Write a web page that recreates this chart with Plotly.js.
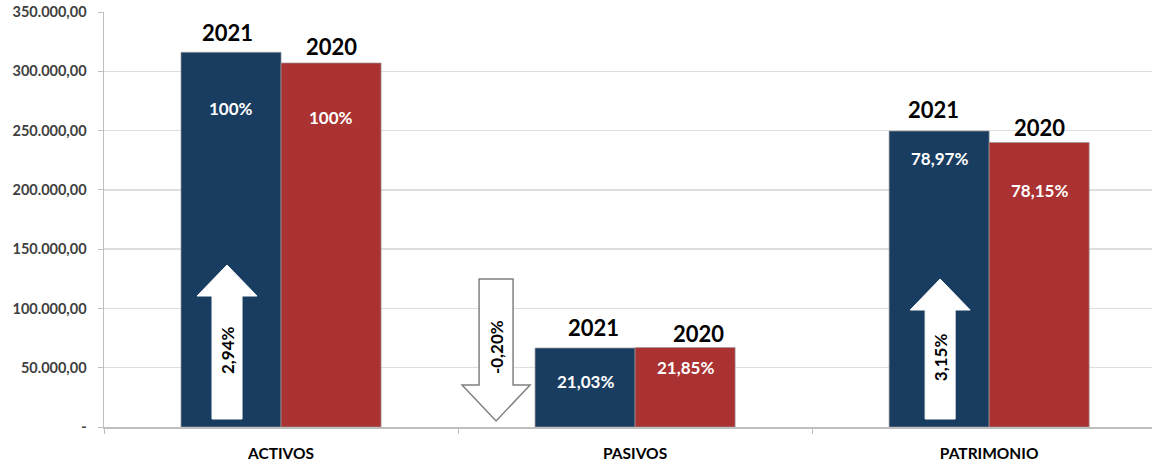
<!DOCTYPE html>
<html>
<head>
<meta charset="utf-8">
<script src="https://cdn.plot.ly/plotly-3.0.1.min.js"></script>
<style>html,body{margin:0;padding:0;background:#fff}#chart{width:1156px;height:465px}</style>
</head>
<body>
<div id="chart"></div>
<script>
// ---- data ----
const categories = ['ACTIVOS', 'PASIVOS', 'PATRIMONIO'];
const values2021 = [316000, 66600, 249600];
const values2020 = [307000, 67000, 240000];
const pct2021 = ['100%', '21,03%', '78,97%'];
const pct2020 = ['100%', '21,85%', '78,15%'];
const seriesNames = ['2021', '2020'];
const changeLabels = ['2,94%', '-0,20%', '3,15%'];
const changeDirection = ['up', 'down', 'up'];
const yTickVals = [0, 50000, 100000, 150000, 200000, 250000, 300000, 350000];
const yTickText = ['-', '50.000,00', '100.000,00', '150.000,00', '200.000,00', '250.000,00', '300.000,00', '350.000,00'];

// ---- styles / layout offsets ----
const FONT = 'Lato, "Open Sans", sans-serif';
const BLUE = '#193d60';
const RED = '#ab3232';
const BAR_PX = 50; // half group offset in px
const pctShift2021 = [-56, -33, -27];
const pctShift2020 = [-55, -20, -48];
const yearShift2021 = [20, 21, 22];
const yearShift2020 = [16, 14, 15];
const yearX2021 = [-4, 8, -6];
const yearX2020 = [0, 13, 0];

const traces = [
  {type: 'bar', name: seriesNames[0], x: categories, y: values2021,
   marker: {color: BLUE, line: {color: 'rgba(150,150,150,0.7)', width: 1}}, hoverinfo: 'none'},
  {type: 'bar', name: seriesNames[1], x: categories, y: values2020,
   marker: {color: RED, line: {color: 'rgba(150,150,150,0.7)', width: 1}}, hoverinfo: 'none'}
];

const annotations = [];
categories.forEach((c, i) => {
  annotations.push({x: c, y: values2021[i], xref: 'x', yref: 'y', text: seriesNames[0], showarrow: false,
    xshift: -BAR_PX + yearX2021[i], yshift: yearShift2021[i], yanchor: 'middle',
    font: {family: FONT, size: 22, color: '#000', weight: 'bold'}});
  annotations.push({x: c, y: values2020[i], xref: 'x', yref: 'y', text: seriesNames[1], showarrow: false,
    xshift: BAR_PX + yearX2020[i], yshift: yearShift2020[i], yanchor: 'middle',
    font: {family: FONT, size: 22, color: '#000', weight: 'bold'}});
  annotations.push({x: c, y: values2021[i], xref: 'x', yref: 'y', text: pct2021[i], showarrow: false,
    xshift: -BAR_PX, yshift: pctShift2021[i], yanchor: 'middle',
    font: {family: FONT, size: 17, color: '#fff', weight: 'bold'}});
  annotations.push({x: c, y: values2020[i], xref: 'x', yref: 'y', text: pct2020[i], showarrow: false,
    xshift: BAR_PX, yshift: pctShift2020[i], yanchor: 'middle',
    font: {family: FONT, size: 17, color: '#fff', weight: 'bold'}});
});

// arrow geometry in pixels relative to category centre and baseline
const arrowGeom = [
  {cx: -54, sw: 15, hw: 30, bottom: 8, headBase: 131, tip: 162, textY: 77},
  {cx: -139, sw: 17, hw: 34, top: 148, headBase: 42, tip: 6, textY: 80},
  {cx: -49, sw: 15, hw: 30, bottom: 8, headBase: 117, tip: 148, textY: 70}
];
const shapes = [];
categories.forEach((c, i) => {
  const g = arrowGeom[i];
  let path;
  if (changeDirection[i] === 'up') {
    path = `M ${g.cx - g.sw},${g.bottom} L ${g.cx + g.sw},${g.bottom} L ${g.cx + g.sw},${g.headBase} L ${g.cx + g.hw},${g.headBase} L ${g.cx},${g.tip} L ${g.cx - g.hw},${g.headBase} L ${g.cx - g.sw},${g.headBase} Z`;
  } else {
    path = `M ${g.cx - g.sw},${g.top} L ${g.cx + g.sw},${g.top} L ${g.cx + g.sw},${g.headBase} L ${g.cx + g.hw},${g.headBase} L ${g.cx},${g.tip} L ${g.cx - g.hw},${g.headBase} L ${g.cx - g.sw},${g.headBase} Z`;
  }
  const up = changeDirection[i] === 'up';
  shapes.push({type: 'path', xref: 'x', yref: 'y', xsizemode: 'pixel', ysizemode: 'pixel',
    xanchor: c, yanchor: 0, path: path, fillcolor: '#ffffff',
    line: {color: up ? 'rgba(255,255,255,1)' : '#808080', width: up ? 1 : 1.5}, layer: 'above'});
  annotations.push({x: c, y: 0, xref: 'x', yref: 'y', text: changeLabels[i], showarrow: false,
    xshift: g.cx, yshift: g.textY, textangle: -90,
    font: {family: FONT, size: 17, color: '#000', weight: 'bold'}});
});

const layout = {
  width: 1156, height: 465,
  margin: {l: 104, r: 4, t: 12, b: 38},
  paper_bgcolor: '#fff', plot_bgcolor: '#fff',
  showlegend: false,
  barmode: 'group', bargap: 0.435, bargroupgap: 0,
  xaxis: {type: 'category', range: [-0.5, 2.46], showgrid: false,
    showline: true, linecolor: '#bfbfbf', linewidth: 1.5,
    ticks: 'outside', tickson: 'boundaries', ticklen: 5, tickcolor: '#bfbfbf',
    tickfont: {family: FONT, size: 15.5, color: '#000', weight: 'bold'}, ticklabelstandoff: 12},
  yaxis: {range: [0, 350000], tickvals: yTickVals, ticktext: yTickText,
    showgrid: true, gridcolor: '#dedede', gridwidth: 1.5,
    showline: true, linecolor: '#bfbfbf', linewidth: 1.5, zeroline: false,
    ticks: 'outside', ticklen: 5, tickcolor: '#bfbfbf',
    tickfont: {family: FONT, size: 14.5, color: '#404040', weight: 'bold'}, ticklabelstandoff: 8},
  annotations: annotations,
  shapes: shapes
};

Plotly.newPlot('chart', traces, layout, {displayModeBar: false, staticPlot: true});
</script>
</body>
</html>
